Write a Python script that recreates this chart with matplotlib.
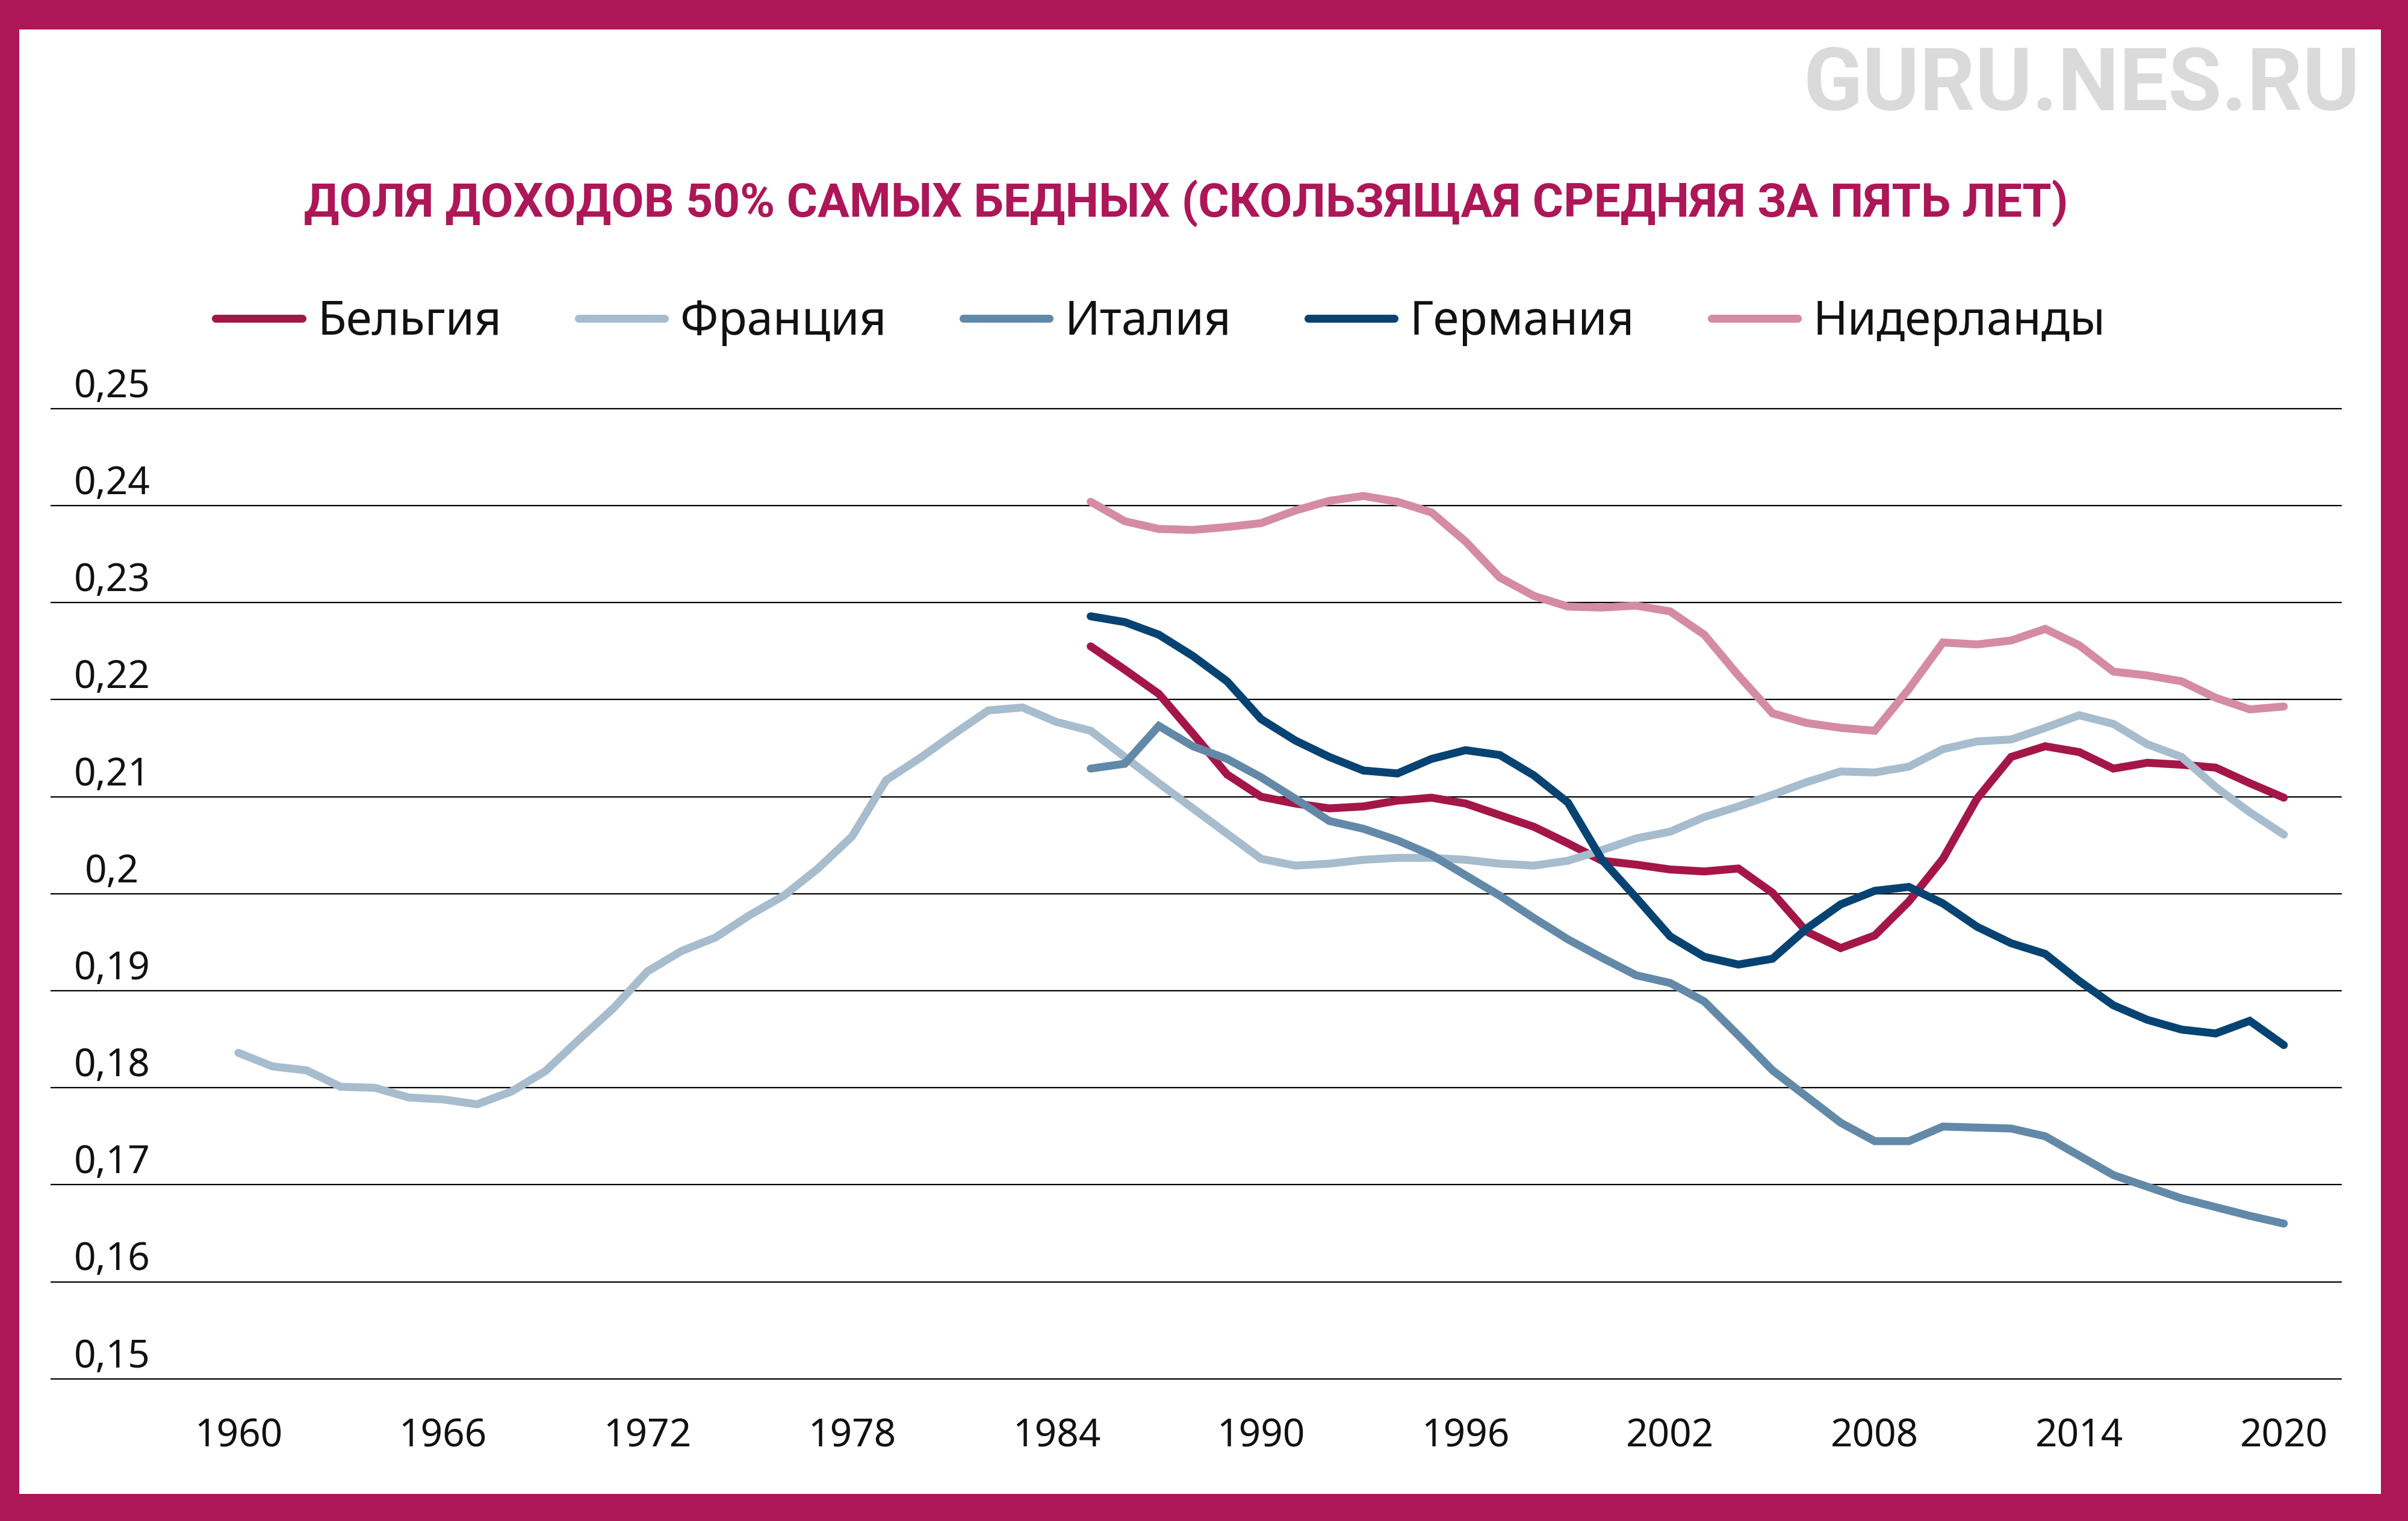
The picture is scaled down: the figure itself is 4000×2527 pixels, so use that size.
import matplotlib
matplotlib.use('Agg')
import matplotlib.pyplot as plt
from matplotlib.patches import Rectangle

plt.rcParams['font.family'] = ['Noto Sans', 'DejaVu Sans']

# данные
years_fr = list(range(1960, 2021))
france = [0.1836, 0.1822, 0.1818, 0.1801, 0.1800, 0.1790, 0.1788, 0.1783, 0.1796, 0.1817,
          0.1850, 0.1882, 0.1920, 0.1941, 0.1955, 0.1978, 0.1998, 0.2026, 0.2059, 0.2117,
          0.2140, 0.2165, 0.2189, 0.2192, 0.2177,
          0.2168, 0.2141, 0.2114, 0.2088, 0.2062, 0.2036, 0.2029, 0.2031, 0.2035, 0.2037,
          0.2037, 0.2035, 0.2031, 0.2029, 0.2034, 0.2045, 0.2057, 0.2064, 0.2079, 0.2090,
          0.2102, 0.2115, 0.2126, 0.2125, 0.2131, 0.2149, 0.2157, 0.2159, 0.2171, 0.2184,
          0.2175, 0.2154, 0.2141, 0.2110, 0.2084, 0.2061]

years = list(range(1985, 2021))
belgium = [0.2255, 0.2231, 0.2206, 0.2165, 0.2123, 0.2100, 0.2093, 0.2088, 0.2090, 0.2096,
           0.2099, 0.2093, 0.2081, 0.2069, 0.2052, 0.2034, 0.2030, 0.2025, 0.2023, 0.2026,
           0.2001, 0.1961, 0.1944, 0.1957, 0.1992, 0.2036, 0.2098, 0.2141, 0.2152, 0.2146,
           0.2129, 0.2135, 0.2133, 0.2130, 0.2114, 0.2099]
italy = [0.2129, 0.2134, 0.2173, 0.2152, 0.2139, 0.2120, 0.2098, 0.2075, 0.2067, 0.2055,
         0.2040, 0.2019, 0.1998, 0.1975, 0.1953, 0.1934, 0.1916, 0.1908, 0.1889, 0.1854,
         0.1818, 0.1791, 0.1764, 0.1745, 0.1745, 0.1760, 0.1759, 0.1758, 0.1750, 0.1730,
         0.1710, 0.1698, 0.1686, 0.1677, 0.1668, 0.1660]
germany = [0.2286, 0.2280, 0.2267, 0.2245, 0.2219, 0.2180, 0.2158, 0.2141, 0.2127, 0.2124,
           0.2139, 0.2148, 0.2143, 0.2122, 0.2094, 0.2035, 0.1996, 0.1956, 0.1935, 0.1927,
           0.1933, 0.1964, 0.1989, 0.2003, 0.2007, 0.1990, 0.1966, 0.1949, 0.1938, 0.1910,
           0.1885, 0.1870, 0.1860, 0.1856, 0.1869, 0.1844]
netherlands = [0.2404, 0.2384, 0.2376, 0.2375, 0.2378, 0.2382, 0.2395, 0.2405, 0.2410, 0.2404,
               0.2393, 0.2363, 0.2326, 0.2307, 0.2296, 0.2295, 0.2297, 0.2291, 0.2267, 0.2225,
               0.2186, 0.2176, 0.2171, 0.2168, 0.2211, 0.2259, 0.2257, 0.2261, 0.2273, 0.2256,
               0.2229, 0.2225, 0.2219, 0.2202, 0.2190, 0.2193]

yticks = [0.15, 0.16, 0.17, 0.18, 0.19, 0.20, 0.21, 0.22, 0.23, 0.24, 0.25]
ytick_labels = ['0,15', '0,16', '0,17', '0,18', '0,19', '0,2', '0,21', '0,22', '0,23', '0,24', '0,25']
xticks = list(range(1960, 2021, 6))

title = 'ДОЛЯ ДОХОДОВ 50% САМЫХ БЕДНЫХ (СКОЛЬЗЯЩАЯ СРЕДНЯЯ ЗА ПЯТЬ ЛЕТ)'
FRAME = '#AD1657'
BOLD = ['Roboto', 'DejaVu Sans']

series = [
    ('Бельгия', years, belgium, '#A51648'),
    ('Франция', years_fr, france, '#A7BCCD'),
    ('Италия', years, italy, '#6389A8'),
    ('Германия', years, germany, '#064372'),
    ('Нидерланды', years, netherlands, '#D48BA3'),
]

fig = plt.figure(figsize=(40, 25.27), dpi=100)
fig.patch.set_facecolor(FRAME)
# белое поле внутри рамки
fig.add_artist(Rectangle((0.008, 0.0178), 0.98075, 0.9628, transform=fig.transFigure,
                         facecolor='white', edgecolor='none', zorder=0))

ax = fig.add_axes([0.021, 0.0871, 0.9515, 0.6506])
ax.set_facecolor('none')
ax.set_xlim(1954.49, 2021.70)
ax.set_ylim(0.149, 0.251)

handles = []
for name, xs, ys, col in series:
    ln, = ax.plot(xs, ys, color=col, lw=9.5, solid_capstyle='round',
                  solid_joinstyle='miter', label=name, zorder=3)
    handles.append(ln)

ax.set_yticks(yticks)
ax.yaxis.grid(True, color='black', linewidth=1.6, zorder=1)
ax.tick_params(axis='y', length=0, labelleft=False)
for v, lab in zip(yticks, ytick_labels):
    ax.annotate(lab, xy=(0.0268, v), xycoords=ax.get_yaxis_transform(),
                xytext=(0, 3), textcoords='offset points',
                ha='center', va='bottom', fontsize=46, color='#111111')

ax.set_xticks(xticks)
ax.tick_params(axis='x', length=0, pad=34, labelsize=46, labelcolor='#111111')
for s in ax.spines.values():
    s.set_visible(False)

fig.legend(handles=handles, ncol=5, loc='center', bbox_to_anchor=(0.482, 0.788),
           frameon=False, fontsize=56, handlelength=1.84, handletextpad=0.33,
           columnspacing=1.64, labelcolor='#111111')

fig.text(0.4925, 0.8666, title, ha='center', va='center', fontsize=56.5,
         fontweight='bold', color=FRAME, family=BOLD)
fig.text(0.980, 0.9434, 'GURU.NES.RU', ha='right', va='center', fontsize=104,
         fontweight='bold', color='#DADADA', family=BOLD)

fig.savefig('out.png', dpi=100)
